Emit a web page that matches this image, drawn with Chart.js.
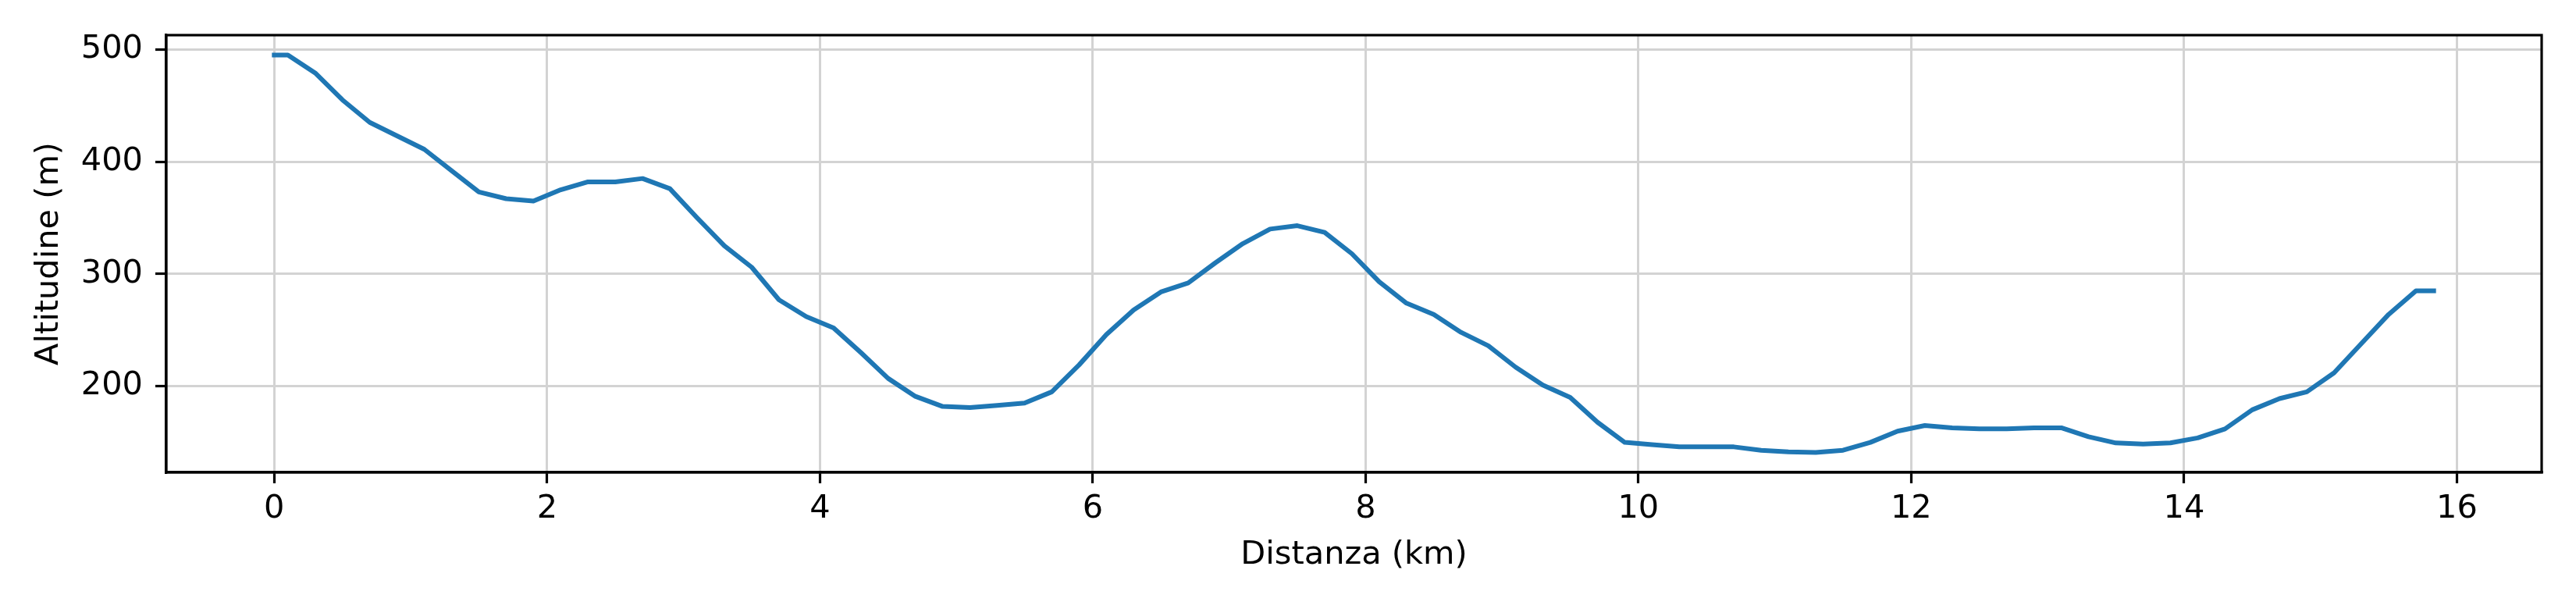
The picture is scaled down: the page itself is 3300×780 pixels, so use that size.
<!DOCTYPE html>
<html>
<head>
<meta charset="utf-8">
<script src="https://cdn.jsdelivr.net/npm/chart.js@4/dist/chart.umd.min.js"></script>
<style>
  body { margin: 0; background: #fff; }
  canvas { display: block; }
</style>
</head>
<body>
<canvas id="profileChart" width="3300" height="780" style="width:3300px;height:780px"></canvas>
<script>
// distanza percorsa (km)
const distances = [0, 0.1, 0.3, 0.5, 0.7, 0.9, 1.1, 1.3, 1.5, 1.7, 1.9, 2.1, 2.3, 2.5, 2.7, 2.9,
    3.1, 3.3, 3.5, 3.7, 3.9, 4.1, 4.3, 4.5, 4.7, 4.9, 5.1, 5.3, 5.5, 5.7, 5.9, 6.1, 6.3, 6.5,
    6.7, 6.9, 7.1, 7.3, 7.5, 7.7, 7.9, 8.1, 8.3, 8.5, 8.7, 8.9, 9.1, 9.3, 9.5, 9.7, 9.9, 10.1,
    10.3, 10.5, 10.7, 10.9, 11.1, 11.3, 11.5, 11.7, 11.9, 12.1, 12.3, 12.5, 12.7, 12.9, 13.1,
    13.3, 13.5, 13.7, 13.9, 14.1, 14.3, 14.5, 14.7, 14.9, 15.1, 15.3, 15.5, 15.7, 15.83];

// altitudine (m)
const altitudes = [495, 495, 479, 455, 435, 423, 411, 392, 373, 367, 365, 375, 382, 382, 385, 376,
    350, 325, 306, 277, 262, 252, 230, 207, 191, 182, 181, 183, 185, 195, 219, 246, 268, 284,
    292, 310, 327, 340, 343, 337, 318, 293, 274, 264, 248, 236, 217, 201, 190, 168, 150, 148,
    146, 146, 146, 143, 141.5, 141, 143, 150, 160, 165, 163, 162, 162, 163, 163,
    155, 149.5, 148.5, 149.5, 154, 162, 179, 189, 195, 212, 238, 264, 285, 285];

const xTicks = [0, 2, 4, 6, 8, 10, 12, 14, 16];
const yTicks = [200, 300, 400, 500];

const xLabel = "Distanza (km)";
const yLabel = "Altitudine (m)";

// margini del 5% come matplotlib
function withMargin(values) {
    const lo = Math.min(...values);
    const hi = Math.max(...values);
    const m = (hi - lo) * 0.05;
    return [lo - m, hi + m];
}
const [xMin, xMax] = withMargin(distances);
const [yMin, yMax] = withMargin(altitudes);

const font = { family: "'DejaVu Sans'", size: 41.5 };

// cornice completa attorno all'area del grafico
const frame = {
    id: 'frame',
    afterDraw(chart) {
        const { ctx, chartArea: a } = chart;
        ctx.save();
        ctx.strokeStyle = '#000';
        ctx.lineWidth = 3.2;
        ctx.strokeRect(a.left, a.top, a.right - a.left, a.bottom - a.top);
        ctx.restore();
    }
};

const ctx = document.getElementById('profileChart').getContext('2d');
new Chart(ctx, {
    type: 'line',
    data: {
        datasets: [{
            data: distances.map((d, i) => ({ x: d, y: altitudes[i] })),
            borderColor: '#1f77b4',
            borderWidth: 6,
            pointRadius: 0,
            tension: 0,
            borderJoinStyle: 'round',
            borderCapStyle: 'square',
            fill: false
        }]
    },
    options: {
        responsive: false,
        devicePixelRatio: 1,
        animation: false,
        layout: { padding: { top: 45, right: 44, left: 0, bottom: 0 } },
        plugins: { legend: { display: false }, tooltip: { enabled: false } },
        scales: {
            x: {
                type: 'linear',
                min: xMin,
                max: xMax,
                afterBuildTicks: (s) => { s.ticks = xTicks.map(v => ({ value: v })); },
                afterFit: (s) => { s.height = 175; },
                ticks: { font: font, color: '#000', padding: 8, maxRotation: 0 },
                grid: { color: '#d3d3d3', lineWidth: 3, tickColor: '#000', tickWidth: 3.2, tickLength: 14 },
                border: { color: '#000', width: 3.2 },
                title: { display: true, text: xLabel, font: font, color: '#000', padding: { top: 0, bottom: 44 } }
            },
            y: {
                type: 'linear',
                min: yMin,
                max: yMax,
                afterBuildTicks: (s) => { s.ticks = yTicks.map(v => ({ value: v })); },
                afterFit: (s) => { s.width = 213; },
                ticks: { font: font, color: '#000', padding: 16 },
                grid: { color: '#d3d3d3', lineWidth: 3, tickColor: '#000', tickWidth: 3.2, tickLength: 14 },
                border: { color: '#000', width: 3.2 },
                title: { display: true, text: yLabel, font: font, color: '#000', padding: { top: 38, bottom: 0 } }
            }
        }
    },
    plugins: [frame]
});
</script>
</body>
</html>
